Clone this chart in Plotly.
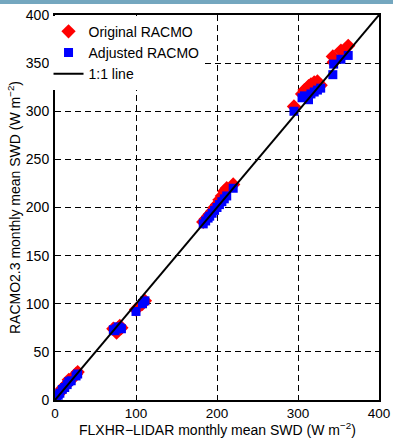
import plotly.graph_objects as go

# FLXHR-LIDAR monthly mean SWD (x) and RACMO values (y)
flxhr = [2, 4, 6, 9, 12, 15, 17, 20, 26, 28,
         72, 74, 76, 78, 80, 82,
         100, 108, 111,
         183, 186, 189, 191, 194, 197, 200, 203, 206, 209, 212, 220,
         295, 305, 308, 313, 316, 320, 324, 328, 343, 344, 353, 362]
racmo_original = [4, 6, 8, 12, 14, 17, 21, 21, 27, 29,
                  74, 73, 70, 75, 77, 75,
                  94, 100, 103,
                  185, 188, 191, 193, 196, 200, 203, 208, 212, 217, 220, 224,
                  305, 318, 322, 326, 328, 330, 331, 327, 357, 351, 363, 368]
racmo_adjusted = [3, 5, 7, 11, 13, 16, 19, 20, 25, 27,
                  73, 72, 74, 76, 75, 74,
                  92, 100, 103,
                  183, 186, 189, 191, 194, 197, 200, 203, 206, 209, 212, 220,
                  300, 314, 316, 312, 318, 320, 322, 324, 338, 349, 354, 358]
one_to_one = [0, 400]

x_ticks = [0, 100, 200, 300, 400]
y_ticks = [0, 50, 100, 150, 200, 250, 300, 350, 400]

FONT = "Liberation Sans, Arial, sans-serif"

fig = go.Figure()
fig.add_trace(go.Scatter(x=flxhr, y=racmo_original, mode="markers", name="Original RACMO",
                         marker=dict(symbol="diamond", size=11, color="#ff0000", line=dict(width=0))))
fig.add_trace(go.Scatter(x=flxhr, y=racmo_adjusted, mode="markers", name="Adjusted RACMO",
                         marker=dict(symbol="square", size=9, color="#0000ff", line=dict(width=0))))
fig.add_trace(go.Scatter(x=one_to_one, y=one_to_one, mode="lines", name="1:1 line",
                         line=dict(color="black", width=2)))

axis_common = dict(
    showline=True, linecolor="black", linewidth=2, mirror=True,
    showgrid=True, gridcolor="black", gridwidth=1, griddash="6px,4px",
    zeroline=False, ticks="", automargin=False,
)

fig.update_xaxes(range=[0, 400], tickvals=x_ticks, ticktext=[str(v) for v in x_ticks],
                 ticklabelstandoff=0,
                 tickfont=dict(size=13.5, color="black", family=FONT), **axis_common)
fig.update_yaxes(range=[0, 400], tickvals=y_ticks, ticktext=[str(v) for v in y_ticks],
                 ticklabelstandoff=1,
                 tickfont=dict(size=14, color="black", family=FONT),
                 title=dict(text="RACMO2.3 monthly mean SWD (W m<sup>\u22122</sup>)",
                            font=dict(size=14, color="black", family=FONT), standoff=2),
                 **axis_common)

fig.update_layout(
    width=393, height=438,
    margin=dict(l=55, r=14, t=15, b=38),
    plot_bgcolor="white", paper_bgcolor="white",
    showlegend=True,
    legend=dict(x=-0.02, y=0.998, xanchor="left", yanchor="top",
                bgcolor="white", borderwidth=0,
                font=dict(size=14, color="black", family=FONT),
                tracegroupgap=0, itemwidth=30),
    annotations=[dict(text="FLXHR\u2212LIDAR monthly mean SWD (W m<sup>\u22122</sup>)",
                      xref="paper", yref="paper", x=0.5, y=-39.5 / 385,
                      xanchor="center", yanchor="bottom", showarrow=False,
                      font=dict(size=14, color="black", family=FONT))],
    shapes=[dict(type="rect", xref="paper", yref="paper",
                 x0=-0.2, x1=1.1, y0=1 + 11 / 385, y1=1 + 15 / 385,
                 fillcolor="#74a7bf", line=dict(width=0), layer="above")],
)

fig.write_html("out.html")
